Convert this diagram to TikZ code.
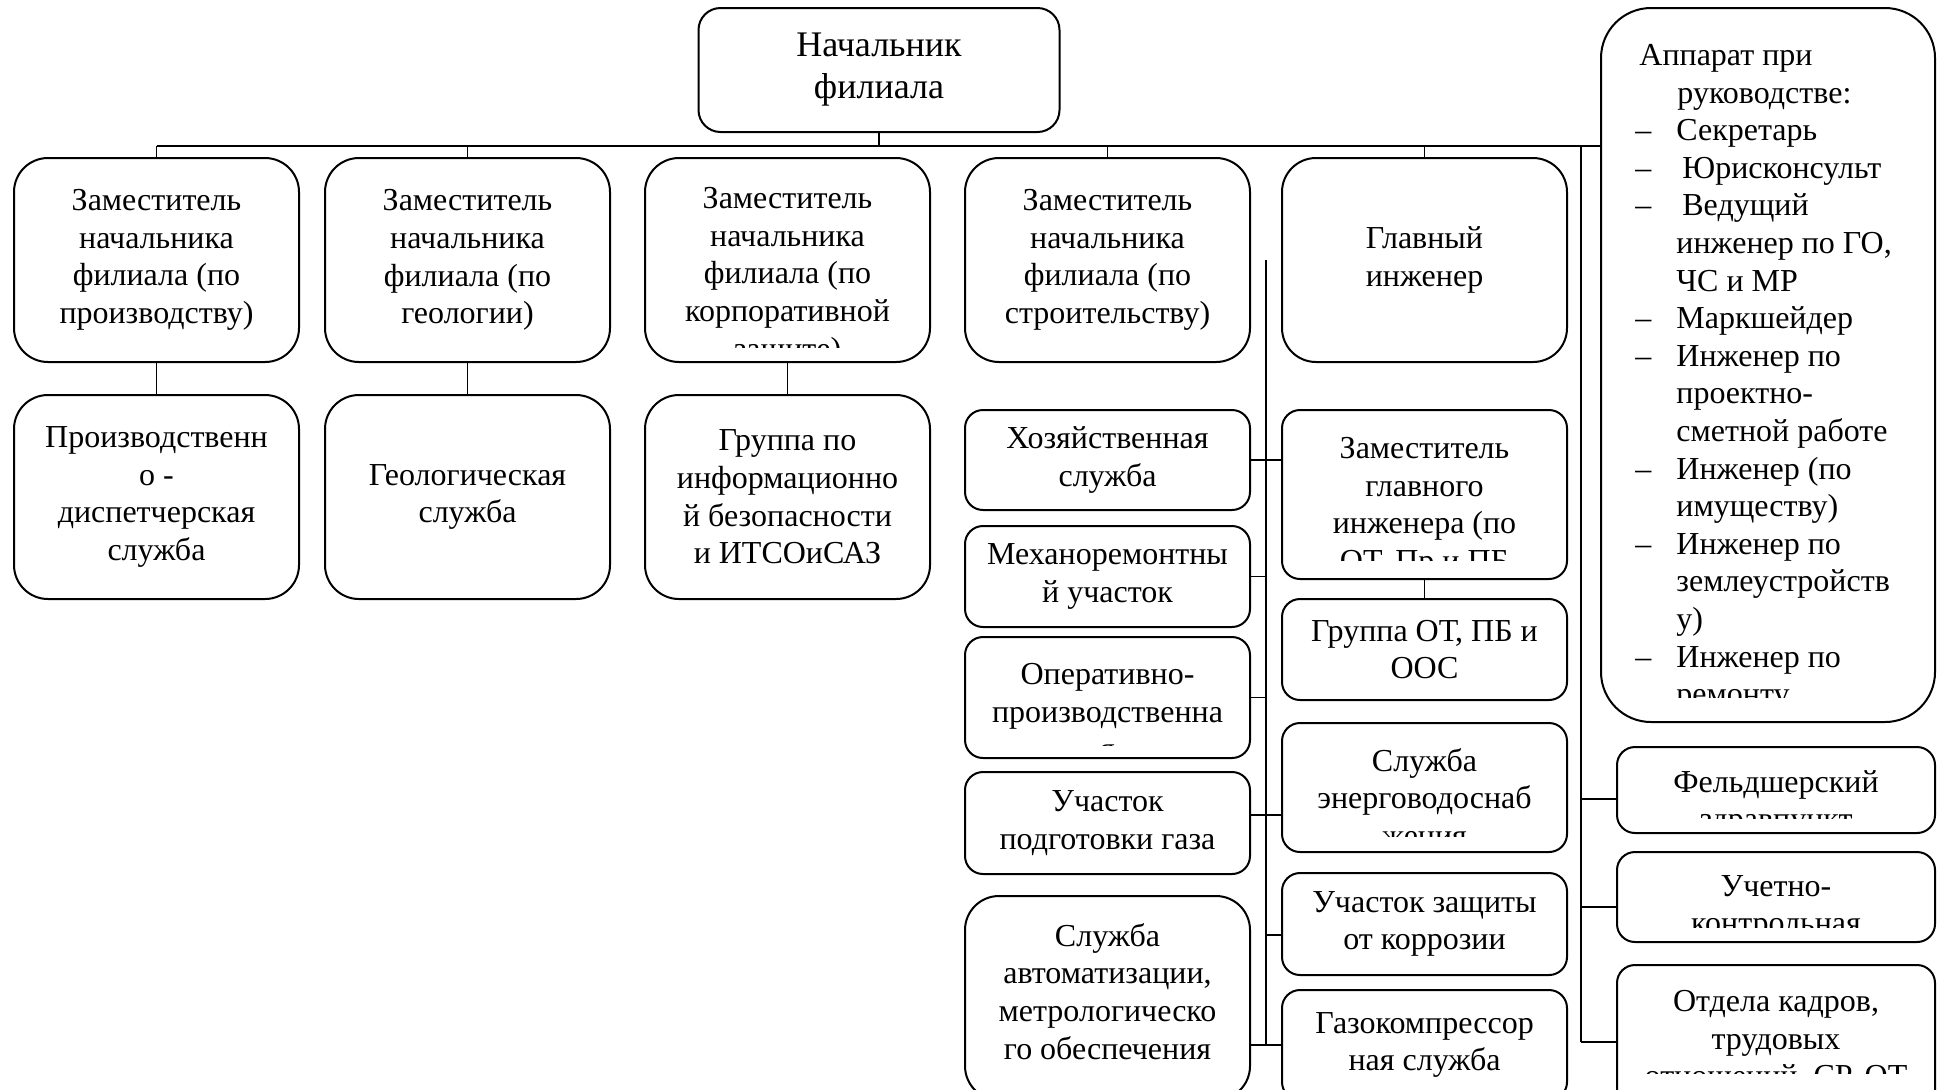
\documentclass[tikz,border=0pt]{standalone}
\usepackage{fontspec}
\setmainfont{Liberation Serif}
\usetikzlibrary{positioning}
\tikzset{
  box/.style={draw,line width=1pt,rounded corners=17pt,align=center,
              minimum width=142.5pt,minimum height=102pt,inner sep=2pt,outer sep=0pt,
              font=\fontsize{16}{18.8}\selectfont},
  dept/.style={box,rounded corners=9pt},
  side/.style={dept,minimum width=159pt},
  txt/.style={inner sep=0pt,align=center,font=\fontsize{16}{18.8}\selectfont},
  conn/.style={line width=0.75pt},
  busline/.style={line width=1.3pt},
}
% text that runs past the bottom of its box
\newcommand{\cuttext}[4]{%
  \begin{scope}
    \clip (#1.north west) rectangle ([yshift=-#3]#1.north east);
    \node[txt,below=#2 of #1.north] (#1txt) {#4};
  \end{scope}}
\newcommand{\dashitem}{\makebox[20.5pt][l]{–}}

\begin{document}
\begin{tikzpicture}
    \useasboundingbox (0,0) rectangle (968.5pt,-544.5pt);
    \clip (0,0) rectangle (968.5pt,-544.5pt);
    \node[box,minimum width=180.5pt,minimum height=62pt,rounded corners=11pt,
          font=\fontsize{18}{21}\selectfont] (boss) at (439.5pt,-35pt) {Начальник\\филиала};
    % deputies
    \node[box,anchor=north west] (dprod) at (7pt,-79pt)
      {Заместитель\\начальника\\филиала (по\\производству)};
    \node[box,right=13pt of dprod] (dgeo) {Заместитель\\начальника\\филиала (по\\геологии)};
    \node[box,right=17.5pt of dgeo] (dsec) {};
    \node[box,right=17.5pt of dsec] (dbuild)
      {Заместитель\\начальника\\филиала (по\\строительству)};
    \node[box,right=16pt of dbuild] (chief) {Главный\\инженер};
    \node[box,below=16.5pt of dprod] (dispatch) {Производственн\\о -\\диспетчерская\\служба};
    \node[box,below=16.5pt of dgeo] (geo) {Геологическая\\служба};
    \node[box,below=16.5pt of dsec] (infosec)
      {Группа по\\информационно\\й безопасности\\и ИТСОиСАЗ};
    % left column
    \node[dept,minimum height=50pt,below=24pt of dbuild] (household) {Хозяйственная\\служба};
    \node[dept,minimum height=50.5pt,below=8pt of household] (mech) {Механоремонтны\\й участок};
    \node[dept,minimum height=60.5pt,below=5pt of mech] (oper) {};
    \node[dept,minimum height=51pt,below=7pt of oper] (gasprep) {Участок\\подготовки газа};
    \node[box,minimum height=102pt,below=11pt of gasprep] (autom) {};
    % chief engineer column
    \node[dept,minimum height=84.5pt,below=24pt of chief] (dchief) {};
    \node[dept,minimum height=50.5pt,below=10pt of dchief] (otgroup) {Группа ОТ, ПБ и\\ООС};
    \node[dept,minimum height=64.5pt,below=11.5pt of otgroup] (energy) {};
    \node[dept,minimum height=51pt,below=10.5pt of energy] (corr) {Участок защиты\\от коррозии};
    \node[dept,minimum height=55pt,below=7.5pt of corr] (gascomp) {Газокомпрессор\\ная служба};
    % staff column
    \node[box,anchor=north east,minimum width=167pt,minimum height=357pt,rounded corners=25pt]
      (apparat) at (967.5pt,-4pt) {};
    \node[side,minimum height=43pt,below=12.5pt of apparat.south east,anchor=north east] (medic) {};
    \node[side,minimum height=45pt,below=9.5pt of medic] (account) {};
    \node[side,minimum height=77pt,below=11.5pt of account] (hr) {};

    \cuttext{dsec}{14.5pt}{94.5pt}{Заместитель\\начальника\\филиала (по\\корпоративной\\защите)}
    \cuttext{oper}{13pt}{54pt}{Оперативно-\\производственна\\я}
    \cuttext{autom}{13.5pt}{200pt}{Служба\\автоматизации,\\метрологическо\\го обеспечения}
    \cuttext{dchief}{13.5pt}{75pt}{Заместитель\\главного\\инженера (по\\ОТ, Пр и ПБ}
    \cuttext{energy}{12.5pt}{56.5pt}{Служба\\энерговодоснаб\\жения}
    \cuttext{medic}{11.5pt}{35.5pt}{Фельдшерский\\здравпункт}
    \cuttext{account}{11.5pt}{37.5pt}{Учетно-\\контрольная}
    \cuttext{hr}{12.5pt}{54pt}{Отдела кадров,\\трудовых\\отношений, СР, ОТ}
    \begin{scope}
      \clip (apparat.north west) rectangle ([yshift=-344.5pt]apparat.north east);
      \node[txt,align=left,anchor=north west] (apparattxt)
        at ([xshift=17pt,yshift=-18pt]apparat.north west)
        {\hspace*{2pt}Аппарат при\\
         \hspace*{21pt}руководстве:\\
         \dashitem Секретарь\\
         \dashitem\hspace*{3pt}Юрисконсульт\\
         \dashitem\hspace*{3pt}Ведущий\\
         \hspace*{20.5pt}инженер по ГО,\\
         \hspace*{20.5pt}ЧС и МР\\
         \dashitem Маркшейдер\\
         \dashitem Инженер по\\
         \hspace*{20.5pt}проектно-\\
         \hspace*{20.5pt}сметной работе\\
         \dashitem Инженер (по\\
         \hspace*{20.5pt}имуществу)\\
         \dashitem Инженер по\\
         \hspace*{20.5pt}землеустройств\\
         \hspace*{20.5pt}у)\\
         \dashitem Инженер по\\
         \hspace*{20.5pt}ремонту};
    \end{scope}

    % connectors
    \coordinate (bus) at ([yshift=-7pt]boss.south);
    \draw[busline] (dprod.north |- bus) -- (apparat.west |- bus);
    \draw[conn] (boss.south) -- (bus);
    \draw[conn] (dprod.north) -- (dprod.north |- bus);
    \draw[conn] (dgeo.north) -- (dgeo.north |- bus);
    \draw[conn] (dbuild.north) -- (dbuild.north |- bus);
    \draw[conn] (chief.north) -- (chief.north |- bus);
    \draw[conn] (dprod) -- (dispatch);
    \draw[conn] (dgeo) -- (geo);
    \draw[conn] (dsec) -- (infosec);
    \coordinate[right=8pt of dbuild.east] (ls);
    \draw[conn] (ls) -- (ls |- gascomp.west);
    \draw[conn] (household.east) -- (household.east -| dchief.west);
    \draw[conn] (mech.east) -- (mech.east -| ls);
    \draw[conn] (oper.east) -- (oper.east -| ls);
    \draw[conn] ([yshift=4pt]gasprep.east) -- ([yshift=4pt]gasprep.east -| energy.west);
    \draw[conn] ([yshift=-5.5pt]corr.west) -- ([yshift=-5.5pt]corr.west -| ls);
    \draw[conn] (autom.east |- gascomp.west) -- (gascomp.west);
    \draw[conn] (dchief) -- (otgroup);
    \coordinate (rs) at ([xshift=-10pt]apparat.west |- bus);
    \draw[conn] (rs) -- (rs |- hr.west);
    \draw[conn] ([yshift=-4.5pt]medic.west -| rs) -- ([yshift=-4.5pt]medic.west);
    \draw[conn] ([yshift=-5pt]account.west -| rs) -- ([yshift=-5pt]account.west);
    \draw[conn] (hr.west -| rs) -- (hr.west);
\end{tikzpicture}
\end{document}
